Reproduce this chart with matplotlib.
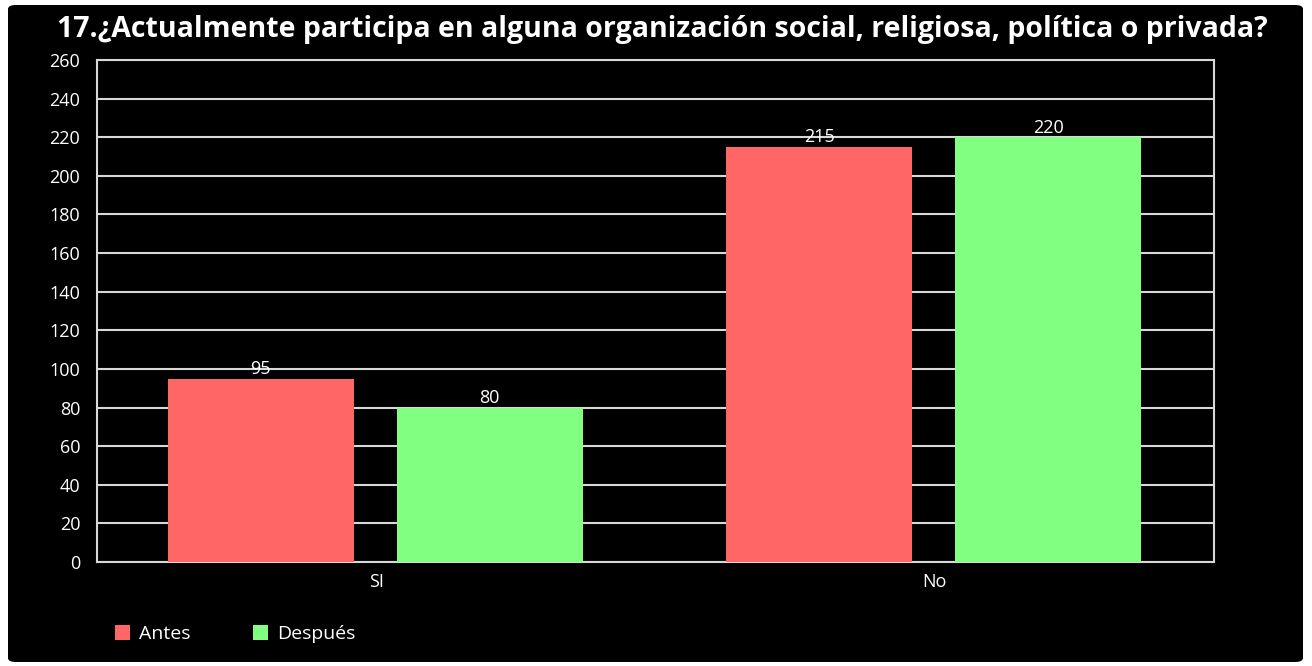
import matplotlib
matplotlib.use("Agg")
import matplotlib.pyplot as plt
from matplotlib.patches import FancyBboxPatch, Patch
import numpy as np

plt.rcParams['font.family'] = ['Open Sans', 'DejaVu Sans']

title = "17.¿Actualmente participa en alguna organización social, religiosa, política o privada?"
categories = ["SI", "No"]
series_names = ["Antes", "Después"]
antes = [95, 215]
despues = [80, 220]
colors = ["#FF6666", "#80FF80"]
yticks = list(range(0, 261, 20))

W, H = 1312, 666
fig = plt.figure(figsize=(W / 100, H / 100), dpi=100, facecolor="white")

bg = FancyBboxPatch((8 / W, 4 / H), (1303 - 8) / W, (661 - 4) / H,
                    boxstyle="round,pad=0,rounding_size=0.006",
                    transform=fig.transFigure, facecolor="black",
                    edgecolor="none", zorder=-10)
fig.patches.append(bg)

ax = fig.add_axes([97 / W, 1 - 562 / H, (1214 - 97) / W, (562 - 60) / H])
ax.set_facecolor("black")

x = np.arange(len(categories))
width = 0.333
offsets = [-0.207, 0.203]
for vals, off, col in zip([antes, despues], offsets, colors):
    bars = ax.bar(x + off, vals, width=width, color=col, zorder=3)
    for b, v in zip(bars, vals):
        ax.text(b.get_x() + b.get_width() / 2, v + 5, str(v), ha="center",
                va="center", color="white", fontsize=13, fontweight="medium",
                zorder=5)

ax.set_xlim(-0.5, 1.5)
ax.set_ylim(0, 260)
ax.set_yticks(yticks)
ax.set_xticks(x)
ax.set_xticklabels(categories)
ax.yaxis.grid(True, color="#d8d8d8", linewidth=1.5, zorder=1)
ax.set_axisbelow(True)
ax.tick_params(axis="both", length=0, colors="white", labelsize=13)
ax.tick_params(axis="y", pad=12)
ax.tick_params(axis="x", pad=8)
for lbl in ax.get_xticklabels() + ax.get_yticklabels():
    lbl.set_fontweight("medium")
for s in ax.spines.values():
    s.set_color("#d8d8d8")
    s.set_linewidth(1.5)

fig.text(662 / W, 1 - 30 / H, title, ha="center", va="center",
         color="white", fontsize=20.5, fontweight="bold")

handles = [Patch(facecolor=c, edgecolor="none") for c in colors]
leg = fig.legend(handles, series_names, loc="center left",
                 bbox_to_anchor=(97 / W, 1 - 634 / H), ncol=2, frameon=False,
                 fontsize=14, handlelength=0.8, handleheight=0.8,
                 columnspacing=3.2, handletextpad=0.45, labelcolor="white")

fig.savefig("out.png", dpi=100, facecolor="white")
